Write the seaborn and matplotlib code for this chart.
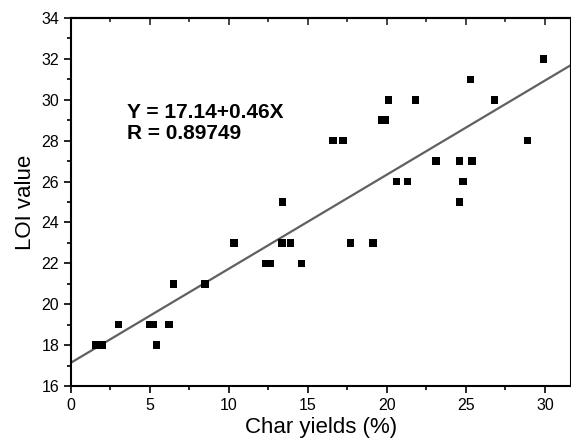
import matplotlib
matplotlib.use("Agg")
import matplotlib.pyplot as plt
from matplotlib.ticker import MultipleLocator
import seaborn as sns
import pandas as pd
import numpy as np

# data
char_yield = [1.6, 2.0, 3.0, 5.0, 5.2, 5.4, 6.2, 6.5, 8.5, 10.3, 12.3, 12.6,
              13.35, 13.4, 13.9, 14.6, 16.6, 17.2, 17.7, 19.1, 19.7, 19.9,
              20.1, 20.6, 21.3, 21.8, 23.1, 24.6, 24.6, 24.8, 25.3, 25.4,
              26.8, 28.9, 29.9]
loi = [18, 18, 19, 19, 19, 18, 19, 21, 21, 23, 22, 22,
       23, 25, 23, 22, 28, 28, 23, 23, 29, 29,
       30, 26, 26, 30, 27, 27, 25, 26, 31, 27,
       30, 28, 32]
intercept = 17.14
slope = 0.46
r_value = 0.89749

sns.set_style("white")
plt.rcParams['font.family'] = ['Liberation Sans', 'DejaVu Sans']
plt.rcParams['text.color'] = 'black'
plt.rcParams['axes.labelcolor'] = 'black'

def scatterPlot(df: pd.DataFrame):
    fig = plt.figure(figsize=(5.71, 4.46), dpi=100)
    ax = fig.add_axes([71 / 571, 60 / 446, 500 / 571, 368 / 446])

    sns.scatterplot(x="char", y="loi", data=df, marker="s", color="black",
                    s=30, edgecolor="none", ax=ax, zorder=3)

    xs = np.array([0, 31.65])
    ax.plot(xs, intercept + slope * xs, color="#606060", lw=1.6, zorder=2)

    ax.text(3.55, 29.4, f"Y = {intercept}+{slope}X", fontsize=15,
            fontweight="bold", va="center", color="black")
    ax.text(3.55, 28.35, f"R = {r_value}", fontsize=15,
            fontweight="bold", va="center", color="black")

    ax.set_xlim(0, 31.65)
    ax.set_ylim(16, 34)
    ax.xaxis.set_major_locator(MultipleLocator(5))
    ax.xaxis.set_minor_locator(MultipleLocator(2.5))
    ax.yaxis.set_major_locator(MultipleLocator(2))
    ax.yaxis.set_minor_locator(MultipleLocator(1))
    ax.tick_params(which="both", direction="out", width=1.2, colors="black",
                   labelsize=11.5)
    ax.tick_params(which="major", length=5)
    ax.tick_params(which="minor", length=3)
    ax.tick_params(bottom=True, left=True, which="both")

    top = ax.secondary_xaxis("top")
    top.xaxis.set_major_locator(MultipleLocator(5))
    top.xaxis.set_minor_locator(MultipleLocator(2.5))
    top.tick_params(which="both", direction="in", labeltop=False, width=1.2)
    top.tick_params(which="major", length=5)
    top.tick_params(which="minor", length=3)

    for sp in ax.spines.values():
        sp.set_color("black")
        sp.set_linewidth(1.5)
    top.spines["top"].set_linewidth(1.5)

    ax.set_xlabel("Char yields (%)", fontsize=16, labelpad=3)
    ax.set_ylabel("LOI value", fontsize=16, labelpad=4)

    fig.savefig("out.png", dpi=100)

def main():
    df = pd.DataFrame({"char": char_yield, "loi": loi})
    scatterPlot(df)

if __name__ == "__main__":
    main()
